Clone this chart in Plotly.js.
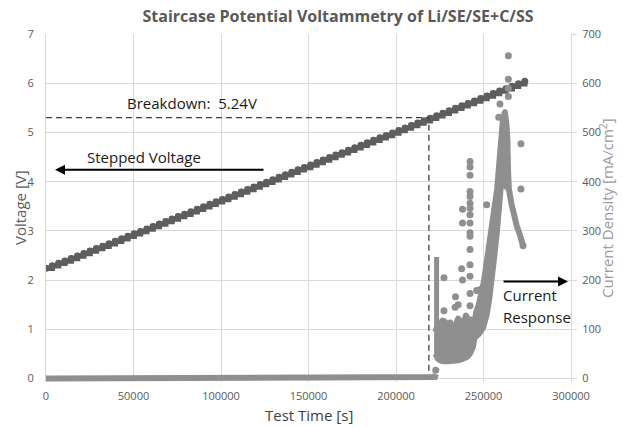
<!DOCTYPE html>
<html>
<head>
<meta charset="utf-8">
<script src="https://cdn.plot.ly/plotly-3.0.1.min.js"></script>
<style>
html,body{margin:0;padding:0;background:#fff;}
#chart{width:623px;height:427px;}
</style>
</head>
<body>
<div id="chart"></div>
<script>
// ---- Stepped voltage (left axis) ----
var stepTime = [0, 3600, 7200, 10800, 14400, 18000, 21600, 25200, 28800, 32400,
  36000, 39600, 43200, 46800, 50400, 54000, 57600, 61200, 64800, 68400,
  72000, 75600, 79200, 82800, 86400, 90000, 93600, 97200, 100800, 104400,
  108000, 111600, 115200, 118800, 122400, 126000, 129600, 133200, 136800, 140400,
  144000, 147600, 151200, 154800, 158400, 162000, 165600, 169200, 172800, 176400,
  180000, 183600, 187200, 190800, 194400, 198000, 201600, 205200, 208800, 212400,
  216000, 219600, 223200, 226800, 230400, 234000, 237600, 241200, 244800, 248400,
  252000, 255600, 259200, 262800, 266400, 270000, 273600];
var stepVoltage = [2.24, 2.29, 2.34, 2.39, 2.44, 2.49, 2.54, 2.59, 2.64, 2.69,
  2.74, 2.79, 2.84, 2.89, 2.94, 2.99, 3.04, 3.09, 3.14, 3.19,
  3.24, 3.29, 3.34, 3.39, 3.44, 3.49, 3.54, 3.59, 3.64, 3.69,
  3.74, 3.79, 3.84, 3.89, 3.94, 3.99, 4.04, 4.09, 4.14, 4.19,
  4.24, 4.29, 4.34, 4.39, 4.44, 4.49, 4.54, 4.59, 4.64, 4.69,
  4.74, 4.79, 4.84, 4.89, 4.94, 4.99, 5.04, 5.09, 5.14, 5.19,
  5.24, 5.29, 5.34, 5.39, 5.44, 5.49, 5.54, 5.59, 5.64, 5.69,
  5.74, 5.79, 5.84, 5.89, 5.94, 5.99, 6.04];

// ---- Breakdown guide ----
var breakdownTime = [0, 218800, 218800];
var breakdownVolt = [5.3, 5.3, 0];

// ---- Current density (right axis) ----
var baseTime = [0, 221500, 222200, 222700];
var baseCurrent = [0, 0, 3, 9];

var spikeTime = [223200, 223200];
var spikeCurrent = [45, 247];

// dense low-current cluster outline
var clusterTime = [222600, 224000, 226000, 229000, 232000, 235000, 238000, 241000, 243500, 244800,
  244800, 243000, 241500, 240000, 238500, 237000, 235500, 234000, 232500,
  231000, 229500, 228000, 226500, 225000, 223800, 222600];
var clusterCurrent = [50, 40, 36, 35, 36, 37, 40, 45, 60, 85,
  100, 120, 118, 128, 108, 115, 122, 105, 95,
  110, 100, 115, 118, 105, 108, 95];

// rising branch outline (left edge up, right edge down)
var riseTime = [244000, 245500, 247000, 248500, 250000, 251500, 253000, 254500, 256000,
  257500, 258800, 259800, 260800, 262000,
  262800, 261800, 260500, 259200, 258000, 256500, 255000, 253500, 252000,
  250000, 247500, 244500];
var riseCurrent = [92, 135, 150, 170, 198, 235, 270, 300, 340,
  385, 440, 490, 525, 540,
  520, 460, 400, 350, 300, 250, 195, 160, 128,
  103, 90, 80];

// dense cluster around the peak
var peakTime = [259300, 260500, 261500, 262600, 263600, 264300, 264300, 263600, 262000, 260500];
var peakCurrent = [450, 510, 540, 545, 520, 480, 410, 385, 390, 410];

// falling branch
var fallTime = [262800, 263500, 264000, 264500, 266000, 267500, 269000, 270800, 272600];
var fallCurrent = [520, 480, 420, 385, 355, 330, 310, 292, 270];

// scattered points
var scatterTime = [227400, 227400, 230900, 233800, 234000, 235500, 237500, 238000,
  238000, 238000, 242300, 242300, 242300, 242300, 242300, 242300, 242300,
  242300, 242300, 242300, 242300, 242300, 242300, 242300, 242300, 242300,
  246100, 248000, 251800, 258700, 259400, 264200, 264200, 264200, 264200,
  271400, 271400, 272600];
var scatterCurrent = [205, 138, 113, 145, 166, 150, 223, 200,
  344, 316, 441, 430, 413, 380, 370, 356, 346,
  333, 316, 296, 289, 262, 231, 208, 173, 148,
  179, 181, 353, 531, 558, 656, 608, 590, 573,
  477, 385, 270];

var vColor = '#5e5e5e';
var cColor = '#8f8f8f';
var font = '"Open Sans", "Noto Sans", sans-serif';

var traces = [
  {x: stepTime, y: stepVoltage, type: 'scatter', mode: 'lines+markers',
   line: {shape: 'hv', width: 5.5, color: vColor},
   marker: {size: 7, color: vColor}, yaxis: 'y', hoverinfo: 'skip', showlegend: false},
  {x: breakdownTime, y: breakdownVolt, type: 'scatter', mode: 'lines',
   line: {width: 1.3, color: '#404040', dash: '6px,4px'}, yaxis: 'y', showlegend: false},
  {x: baseTime, y: baseCurrent, type: 'scatter', mode: 'lines',
   line: {width: 6, color: cColor}, yaxis: 'y2', showlegend: false},
  {x: [222700], y: [17], type: 'scatter', mode: 'markers',
   marker: {size: 7, color: cColor}, yaxis: 'y2', showlegend: false},
  {x: spikeTime, y: spikeCurrent, type: 'scatter', mode: 'lines',
   line: {width: 5, color: cColor}, yaxis: 'y2', showlegend: false},
  {x: clusterTime, y: clusterCurrent, type: 'scatter', mode: 'lines', fill: 'toself',
   fillcolor: cColor, line: {width: 6, color: cColor, shape: 'spline', smoothing: 0.6}, yaxis: 'y2', showlegend: false},
  {x: riseTime, y: riseCurrent, type: 'scatter', mode: 'lines', fill: 'toself',
   fillcolor: cColor, line: {width: 5, color: cColor}, yaxis: 'y2', showlegend: false},
  {x: peakTime, y: peakCurrent, type: 'scatter', mode: 'lines', fill: 'toself',
   fillcolor: cColor, line: {width: 4, color: cColor}, yaxis: 'y2', showlegend: false},
  {x: fallTime, y: fallCurrent, type: 'scatter', mode: 'lines',
   line: {width: 6, color: cColor}, yaxis: 'y2', showlegend: false},
  {x: scatterTime, y: scatterCurrent, type: 'scatter', mode: 'markers',
   marker: {size: 7, color: cColor}, yaxis: 'y2', showlegend: false}
];

var grid = '#d9d9d9';
var tickFont = {family: font, size: 11, color: '#595959'};
var layout = {
  width: 623, height: 427,
  margin: {l: 46, r: 52, t: 34, b: 44.55},
  paper_bgcolor: '#ffffff', plot_bgcolor: '#ffffff',
  showlegend: false,
  font: {family: font},
  title: {text: 'Staircase Potential Voltammetry of Li/SE/SE+C/SS',
          font: {family: font, size: 16, color: '#595959', weight: 'bold'},
          x: 0.5426, xanchor: 'center', y: 0.962, yanchor: 'middle', xref: 'container', yref: 'container'},
  xaxis: {range: [0, 300000], dtick: 50000, tick0: 0, tickformat: 'd',
          showgrid: true, gridcolor: grid, gridwidth: 1, zeroline: false,
          showline: false, ticks: '', tickfont: tickFont, ticklabelstandoff: 6},
  yaxis: {range: [-0.07, 7], dtick: 1, tick0: 0, showgrid: true, gridcolor: grid,
          zeroline: false, showline: true, linecolor: grid, ticks: '',
          tickfont: tickFont, ticklabelstandoff: 9},
  yaxis2: {range: [-7, 700], dtick: 100, tick0: 0, overlaying: 'y', side: 'right',
           showgrid: false, zeroline: false, showline: true, linecolor: grid,
           ticks: 'outside', ticklen: 5, tickcolor: grid,
           tickfont: tickFont, ticklabelstandoff: 3},
  annotations: [
    {text: 'Voltage [V]', xref: 'paper', yref: 'paper', x: 0, y: 0.5, xshift: -26,
     textangle: -90, showarrow: false, xanchor: 'center', yanchor: 'middle',
     font: {family: font, size: 15, color: '#595959'}},
    {text: 'Current Density [mA/cm<sup>2</sup>]', xref: 'paper', yref: 'paper', x: 1, y: 0.5, xshift: 35,
     textangle: -90, showarrow: false, xanchor: 'center', yanchor: 'middle',
     font: {family: font, size: 15, color: '#9a9a9a'}},
    {text: 'Test Time [s]', xref: 'paper', yref: 'paper', x: 0.5, y: 0, yshift: -33,
     showarrow: false, xanchor: 'center', yanchor: 'middle',
     font: {family: font, size: 15, color: '#404040'}},
    {text: 'Breakdown:  5.24V', xref: 'x', yref: 'y', x: 83430, y: 5.6,
     showarrow: false, xanchor: 'center', yanchor: 'middle',
     font: {family: font, size: 15, color: '#1a1a1a'}},
    {text: 'Stepped Voltage', xref: 'x', yref: 'y', x: 55770, y: 4.5,
     showarrow: false, xanchor: 'center', yanchor: 'middle',
     font: {family: font, size: 15, color: '#1a1a1a'}},
    {text: '', xref: 'x', yref: 'y', x: 5143, y: 4.24, axref: 'x', ayref: 'y',
     ax: 125143, ay: 4.24, showarrow: true, arrowhead: 2, arrowsize: 1,
     arrowwidth: 2, arrowcolor: '#000000', standoff: 0},
    {text: 'Current', xref: 'x', yref: 'y2', x: 260000, y: 170,
     showarrow: false, xanchor: 'left', yanchor: 'middle',
     font: {family: font, size: 15, color: '#1a1a1a'}},
    {text: 'Response', xref: 'x', yref: 'y2', x: 260000, y: 126,
     showarrow: false, xanchor: 'left', yanchor: 'middle',
     font: {family: font, size: 15, color: '#1a1a1a'}},
    {text: '', xref: 'x', yref: 'y2', x: 298300, y: 197, axref: 'x', ayref: 'y2',
     ax: 260600, ay: 197, showarrow: true, arrowhead: 2, arrowsize: 1,
     arrowwidth: 2, arrowcolor: '#000000', standoff: 0}
  ]
};

Plotly.newPlot('chart', traces, layout, {displayModeBar: false, staticPlot: true});
</script>
</body>
</html>
